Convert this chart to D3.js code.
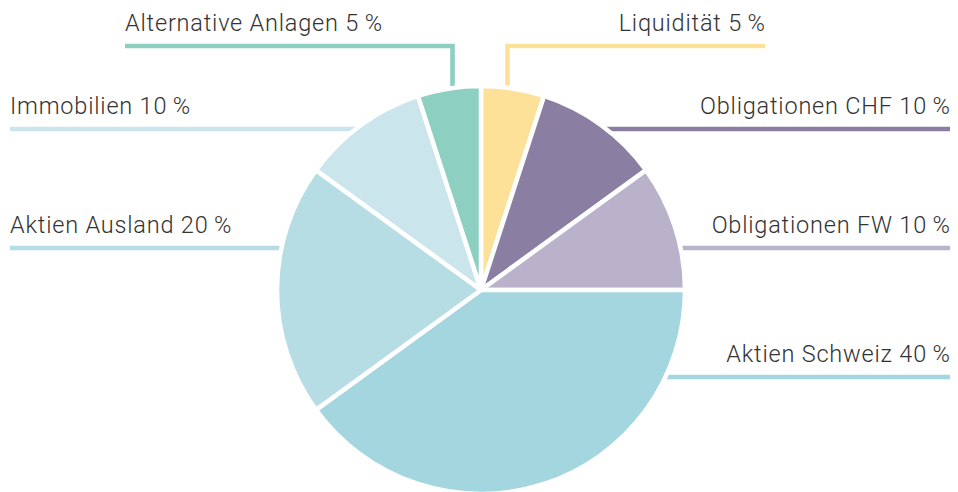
<!DOCTYPE html>
<html>
<head>
<meta charset="utf-8">
<script src="https://cdn.jsdelivr.net/npm/d3@7"></script>
<style>
  body { margin: 0; background: #fff; }
  text { font-family: Roboto, "DejaVu Sans", sans-serif; font-weight: 300; fill: #333; letter-spacing: 0.8px; }
</style>
</head>
<body>
<div id="chart"></div>
<script>
// data
const categories = ["Liquidität", "Obligationen CHF", "Obligationen FW", "Aktien Schweiz",
  "Aktien Ausland", "Immobilien", "Alternative Anlagen"];
const shares = [5, 10, 10, 40, 20, 10, 5];
const colors = ["#fde199", "#8a7fa3", "#bab2cb", "#a4d6df", "#b6dce4", "#cae6ec", "#8dd0c2"];

// label layout: side, y of leader line, x where label ends / starts, optional elbow x
const labelLayout = [
  { side: "right", y: 46, edge: 765, elbow: 507.5 },
  { side: "right", y: 129, edge: 950 },
  { side: "right", y: 248, edge: 950 },
  { side: "right", y: 377, edge: 950 },
  { side: "left", y: 248, edge: 10 },
  { side: "left", y: 129, edge: 10 },
  { side: "left", y: 46, edge: 125, elbow: 452.5 }
];

const width = 958, height = 492;
const cx = 481, cy = 290, radius = 204;

const svg = d3.select("#chart").append("svg")
  .attr("width", width)
  .attr("height", height);

const pie = d3.pie().sort(null).value(d => d.value);
const arc = d3.arc().innerRadius(0).outerRadius(radius);

const data = categories.map((c, i) => ({ name: c, value: shares[i], color: colors[i], layout: labelLayout[i] }));
const arcs = pie(data);

// leader lines (behind the pie)
const visR = radius - 2;
const leaders = svg.append("g").attr("class", "leaders");
arcs.forEach(a => {
  const L = a.data.layout;
  let pts;
  if (L.elbow !== undefined) {
    const dx = L.elbow - cx;
    const yEdge = cy - Math.sqrt(visR * visR - dx * dx) + 4;
    pts = [[L.elbow, yEdge], [L.elbow, L.y], [L.edge, L.y]];
  } else {
    const dy = L.y - cy;
    const dx = Math.sqrt(visR * visR - dy * dy) - 6;
    const xEdge = L.side === "right" ? cx + dx : cx - dx;
    pts = [[xEdge, L.y], [L.edge, L.y]];
  }
  leaders.append("path")
    .attr("d", d3.line()(pts))
    .attr("fill", "none")
    .attr("stroke", a.data.color)
    .attr("stroke-width", 4.6)
    .attr("stroke-linejoin", "miter");

  leaders.append("text")
    .attr("x", L.side === "right" ? L.edge + 0.8 : L.edge)
    .attr("y", L.y - 15)
    .attr("text-anchor", L.side === "right" ? "end" : "start")
    .attr("font-size", 23.5)
    .text(`${a.data.name} ${a.data.value}\u2009%`);
});

// pie slices
svg.append("g")
  .attr("transform", `translate(${cx},${cy})`)
  .selectAll("path")
  .data(arcs)
  .join("path")
  .attr("d", arc)
  .attr("fill", d => d.data.color)
  .attr("stroke", "#fff")
  .attr("stroke-width", 4.5)
  .attr("stroke-linejoin", "round");
</script>
</body>
</html>
